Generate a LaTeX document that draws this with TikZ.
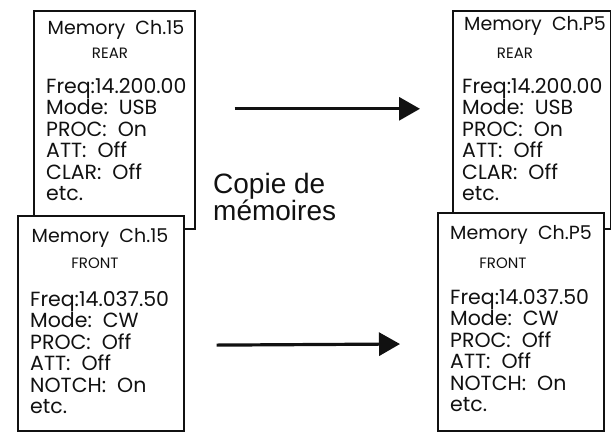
\documentclass[tikz,border=0pt]{standalone}
\usepackage{fontspec}
\setmainfont{Poppins}
\newfontfamily\arialfont{Liberation Sans}
\usetikzlibrary{arrows.meta,positioning}
\definecolor{memInk}{HTML}{111111}
\tikzset{
  mem box/.style={draw=memInk, fill=white, line width=1.6pt, anchor=north west, inner sep=0pt},
  mem head/.style={font=\fontsize{19}{21}\selectfont, text=memInk, inner sep=0pt},
  mem side/.style={font=\fontsize{15}{18}\selectfont, text=memInk, inner sep=0pt},
  mem body/.style={font=\fontsize{20.5}{21.5}\selectfont, text=memInk, align=left, anchor=north west, inner sep=0pt},
  mem copy/.style={draw=memInk, line width=3.2pt, -{Triangle[length=21pt,width=23pt]}},
  mem note/.style={font=\arialfont\fontsize{28}{25.5}\selectfont, text=memInk, align=left, anchor=west, inner sep=0pt},
}

\begin{document}
\begin{tikzpicture}[x=1pt,y=-1pt]
  \useasboundingbox (0,0) rectangle (611,433);

  % Left pair: channel 15
  \node[mem box, minimum width=161pt, minimum height=218pt] (rearL) at (33,10) {};
  \node[mem head] (rearLhead) at (116,30) {Memory\ \ Ch.15};
  \node[mem side] (rearLside) at (110,53) {REAR};
  \node[mem body] (rearLbody) at (46,78)
    {Freq:14.200.00\\Mode:\ \ USB\\PROC:\ \ On\\ATT:\ \ Off\\CLAR:\ \ Off\\etc.};

  \node[mem box, minimum width=166pt, minimum height=215pt] (frontL) at (17,215) {};
  \node[mem head] (frontLhead) at (100,238) {Memory\ \ Ch.15};
  \node[mem side] (frontLside) at (95,263) {FRONT};
  \node[mem body] (frontLbody) at (30,291)
    {Freq:14.037.50\\Mode:\ \ CW\\PROC:\ \ Off\\ATT:\ \ Off\\NOTCH:\ \ On\\etc.};

  % Right pair: channel P5
  \node[mem box, minimum width=158pt, minimum height=218pt] (rearR) at (452,10) {};
  \node[mem head] (rearRhead) at (535,26) {Memory\ \ Ch.P5};
  \node[mem side] (rearRside) at (515,53) {REAR};
  \node[mem body] (rearRbody) at (462,78)
    {Freq:14.200.00\\Mode:\ \ USB\\PROC:\ \ On\\ATT:\ \ Off\\CLAR:\ \ Off\\etc.};

  \node[mem box, minimum width=166pt, minimum height=218pt] (frontR) at (437,212) {};
  \node[mem head] (frontRhead) at (521,235) {Memory\ \ Ch.P5};
  \node[mem side] (frontRside) at (503,263) {FRONT};
  \node[mem body] (frontRbody) at (450,289)
    {Freq:14.037.50\\Mode:\ \ CW\\PROC:\ \ Off\\ATT:\ \ Off\\NOTCH:\ \ On\\etc.};

  % Copy arrows
  \draw[mem copy, shorten <=39pt, shorten >=32pt]
    ([yshift=11pt]rearL.east) -- ([yshift=11pt]rearR.west);
  \draw[mem copy, shorten <=32pt, shorten >=37pt]
    ([yshift=-22pt]frontL.east) -- ([yshift=-22pt]frontR.west);
  \node[mem note] (copyNote) at (213,197) {Copie de\\m\'emoires};
\end{tikzpicture}
\end{document}
